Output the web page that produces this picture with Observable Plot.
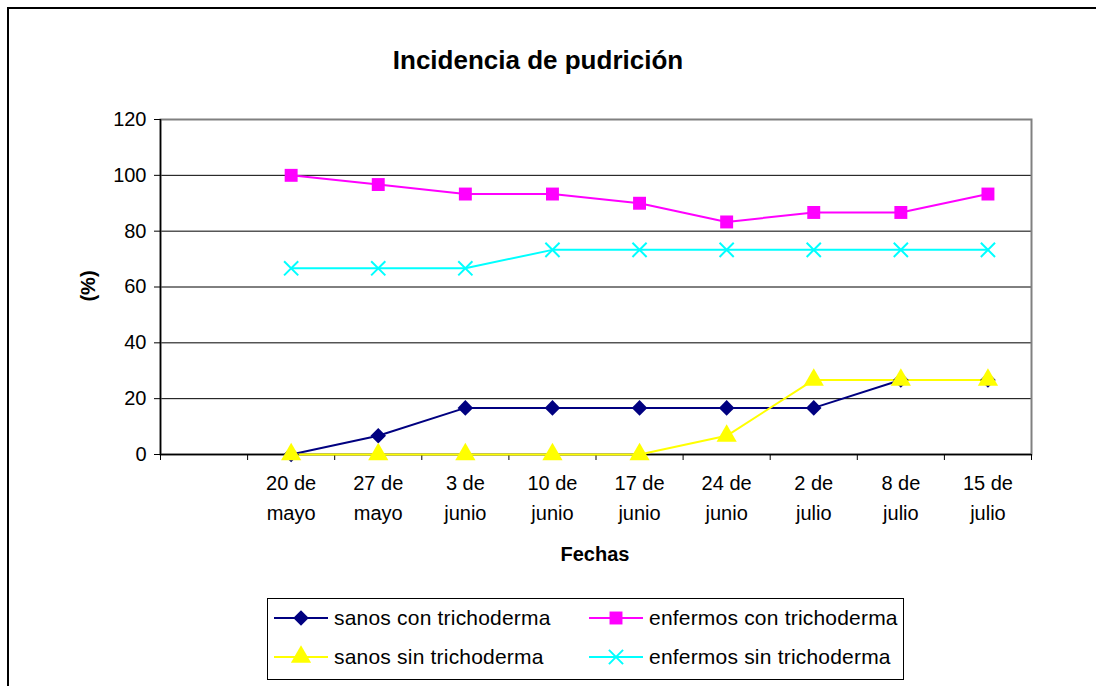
<!DOCTYPE html>
<html><head><meta charset="utf-8">
<script src="https://cdn.jsdelivr.net/npm/d3@7"></script>
<script src="https://cdn.jsdelivr.net/npm/@observablehq/plot@0.6"></script>
<style>
body{margin:0;background:#fff;font-family:"Liberation Sans",Arial,sans-serif;}
#wrap{position:relative;width:1096px;height:686px;overflow:hidden;}
#frame{position:absolute;left:7px;top:7px;width:1100px;height:700px;border:2px solid #000;box-sizing:border-box;}
#title{position:absolute;left:0;width:1076px;top:45px;text-align:center;font-weight:bold;font-size:26px;}
#ylab{position:absolute;left:88px;top:286px;transform:translate(-50%,-50%) rotate(-90deg);font-weight:bold;font-size:20px;}
#xlab{position:absolute;left:595px;top:543px;transform:translateX(-50%);font-weight:bold;font-size:20px;}
#chart{position:absolute;left:0;top:0;}
#legend{position:absolute;left:267px;top:598px;width:637px;height:82px;border:1px solid #000;box-sizing:border-box;}
.item{position:absolute;display:flex;align-items:center;font-size:21px;letter-spacing:0.2px;white-space:nowrap;}
.item svg{margin-right:6px;}
</style></head>
<body><div id="wrap">
<div id="frame"></div>
<div id="title">Incidencia de pudrición</div>
<div id="ylab">(%)</div>
<div id="xlab">Fechas</div>
<div id="chart"></div>
<div id="legend"></div>
</div>
<script>
const categories = ["", "20 de\nmayo", "27 de\nmayo", "3 de\njunio", "10 de\njunio", "17 de\njunio", "24 de\njunio", "2 de\njulio", "8 de\njulio", "15 de\njulio"];
const sanosCon    = [null, 0, 6.7, 16.7, 16.7, 16.7, 16.7, 16.7, 26.7, 26.7];
const enfermosCon = [null, 100, 96.7, 93.3, 93.3, 90, 83.3, 86.7, 86.7, 93.3];
const sanosSin    = [null, 0, 0, 0, 0, 0, 6.7, 26.7, 26.7, 26.7];
const enfermosSin = [null, 66.7, 66.7, 66.7, 73.3, 73.3, 73.3, 73.3, 73.3, 73.3];
const yTicks = [0, 20, 40, 60, 80, 100, 120];

const series = [
  {name: "sanos con trichoderma", values: sanosCon, color: "#000080", symbol: "diamond2", filled: true, r: 7},
  {name: "enfermos con trichoderma", values: enfermosCon, color: "#FF00FF", symbol: "square", filled: true, r: 7.3},
  {name: "sanos sin trichoderma", values: sanosSin, color: "#FFFF00", symbol: "triangle", filled: true, r: 7.5},
  {name: "enfermos sin trichoderma", values: enfermosSin, color: "#00FFFF", symbol: "times", filled: false, r: 6.5}
];

const rows = series.map(s => s.values.map((v, i) => ({i, v, name: s.name}))).map(a => a.filter(d => d.v != null));
const catIdx = categories.map((_, i) => i);
const bounds = categories.map((_, i) => i - 0.5).concat([categories.length - 0.5]);

const marks = [
  Plot.ruleY(yTicks.filter(t => t > 0 && t < 120), {stroke: "#000", strokeWidth: 1}),
  Plot.frame({stroke: "#808080", strokeWidth: 2}),
  Plot.ruleX([-0.5], {stroke: "#000", strokeWidth: 1.5}),
  Plot.ruleY([0], {stroke: "#000", strokeWidth: 1.5}),
  Plot.axisY({ticks: yTicks, tickSize: 6, tickPadding: 8, fontSize: 20, label: null, stroke: "#000"}),
  Plot.axisX({ticks: bounds, tickSize: 6, tickFormat: () => "", label: null}),
  Plot.text(catIdx, {x: d => d, text: d => categories[d], frameAnchor: "bottom", lineAnchor: "top", dy: 14, lineHeight: 1.5, fontSize: 20, fill: "#000"})
];
series.forEach((s, k) => {
  marks.push(Plot.line(rows[k], {x: "i", y: "v", stroke: s.color, strokeWidth: 2}));
});
series.forEach((s, k) => {
  marks.push(Plot.dot(rows[k], {x: "i", y: "v", symbol: () => s.symbol, r: s.r,
    fill: s.filled ? s.color : "none", stroke: s.color, strokeWidth: s.filled ? 0 : 2}));
});

const chart = Plot.plot({
  width: 1096, height: 600,
  marginLeft: 160, marginRight: 65, marginTop: 119, marginBottom: 146,
  style: {fontFamily: "Liberation Sans, Arial, sans-serif", color: "#000", background: "transparent"},
  x: {type: "linear", domain: [-0.5, categories.length - 0.5], axis: null},
  y: {domain: [0, 120], axis: null},
  symbol: {type: "identity"},
  marks
});
document.getElementById("chart").appendChild(chart);

// legend
const legend = document.getElementById("legend");
const pos = [[6, 7], [321, 7], [6, 46], [321, 46]];
const symMap = {diamond2: d3.symbolDiamond2, square: d3.symbolSquare, triangle: d3.symbolTriangle, times: d3.symbolTimes};
series.forEach((s, k) => {
  const div = document.createElement("div");
  div.className = "item";
  div.style.left = pos[k][0] + "px";
  div.style.top = pos[k][1] + "px";
  const svg = d3.create("svg").attr("width", 54).attr("height", 24);
  svg.append("line").attr("x1", 0).attr("x2", 54).attr("y1", 12).attr("y2", 12).attr("stroke", s.color).attr("stroke-width", 2);
  svg.append("path").attr("transform", "translate(27,12)")
    .attr("d", d3.symbol(symMap[s.symbol], Math.PI * s.r * s.r)())
    .attr("fill", s.filled ? s.color : "none").attr("stroke", s.color).attr("stroke-width", s.filled ? 0 : 2);
  div.appendChild(svg.node());
  const span = document.createElement("span");
  span.textContent = s.name;
  div.appendChild(span);
  legend.appendChild(div);
});
</script>
</body></html>
